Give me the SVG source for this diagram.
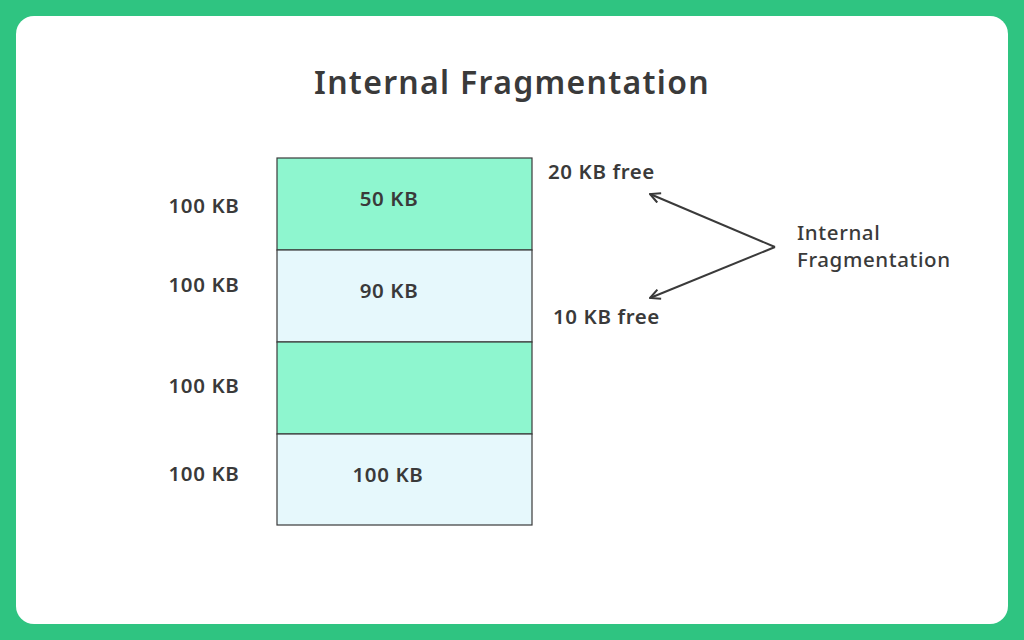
<svg xmlns="http://www.w3.org/2000/svg" width="1024" height="640" viewBox="0 0 1024 640">
<defs>
<style>
text{font-family:"Noto Sans","DejaVu Sans",sans-serif;fill:#3a3a3a;font-weight:600;letter-spacing:0.6px}
.t{font-size:20.5px}
.c{text-anchor:middle}
.blk{stroke:#3a3a3a;stroke-width:1.2}
.g{fill:#8ef6cf}.b{fill:#e6f8fc}
</style>
<marker id="ah" viewBox="0 0 12 12" refX="11" refY="6" markerWidth="12" markerHeight="12" markerUnits="userSpaceOnUse" orient="auto">
<path d="M1 1 L11 6 L1 11" fill="none" stroke="#3a3a3a" stroke-width="2"/>
</marker>
</defs>
<rect width="1024" height="640" fill="#2fc481"/>
<rect x="16" y="16" width="992" height="608" rx="18" fill="#fff"/>
<text x="512" y="94" class="c" style="font-size:32px;letter-spacing:1.3px">Internal Fragmentation</text>
<g id="block1"><rect x="277" y="158" width="255" height="92" class="blk g"/><text x="389" y="206" class="t c">50 KB</text><text x="204" y="213" class="t c">100 KB</text></g>
<g id="block2"><rect x="277" y="250" width="255" height="92" class="blk b"/><text x="389" y="298" class="t c">90 KB</text><text x="204" y="292" class="t c">100 KB</text></g>
<g id="block3"><rect x="277" y="342" width="255" height="92" class="blk g"/><text x="204" y="393" class="t c">100 KB</text></g>
<g id="block4"><rect x="277" y="434" width="255" height="91" class="blk b"/><text x="388" y="482" class="t c">100 KB</text><text x="204" y="481" class="t c">100 KB</text></g>
<g id="labels">
<text x="548" y="179" class="t">20 KB free</text>
<text x="553" y="324" class="t">10 KB free</text>
<text x="797" y="240" class="t" style="font-weight:500">Internal</text>
<text x="797" y="267" class="t" style="font-weight:500">Fragmentation</text>
</g>
<g id="connectors" fill="none" stroke="#3a3a3a" stroke-width="2">
<path d="M775 247 L650 194" marker-end="url(#ah)"/>
<path d="M775 247 L650 298" marker-end="url(#ah)"/>
</g>
</svg>
